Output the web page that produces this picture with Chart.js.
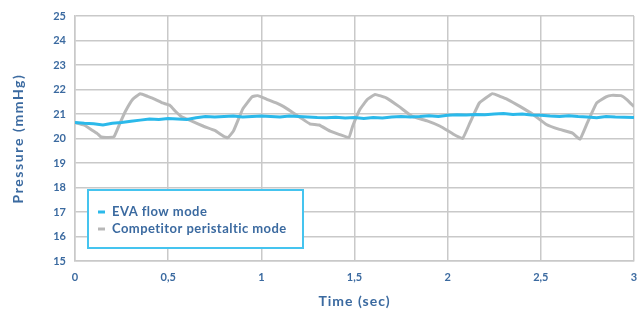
<!DOCTYPE html>
<html>
<head>
<meta charset="utf-8">
<script src="https://cdn.jsdelivr.net/npm/chart.js@4"></script>
<style>
  html, body { margin: 0; padding: 0; background: #fff; }
  #wrap { width: 641px; height: 312px; position: relative; }
</style>
</head>
<body>
<div id="wrap"><canvas id="chart"></canvas></div>
<script>
// DATA
const seriesNames = ['EVA flow mode', 'Competitor peristaltic mode'];

const evaTime = [0, 0.05, 0.1, 0.15, 0.2, 0.25, 0.3, 0.35, 0.4, 0.45, 0.5, 0.55, 0.6, 0.65, 0.7, 0.75, 0.8, 0.85, 0.9, 0.95,
  1, 1.05, 1.1, 1.15, 1.2, 1.25, 1.3, 1.35, 1.4, 1.45, 1.5, 1.55, 1.6, 1.65, 1.7, 1.75, 1.8, 1.85, 1.9, 1.95,
  2, 2.05, 2.1, 2.15, 2.2, 2.25, 2.3, 2.35, 2.4, 2.45, 2.5, 2.55, 2.6, 2.65, 2.7, 2.75, 2.8, 2.85, 2.9, 2.95, 3];
const evaValues = [20.65, 20.62, 20.6, 20.55, 20.62, 20.65, 20.7, 20.75, 20.8, 20.78, 20.82, 20.8, 20.78, 20.85, 20.9, 20.88, 20.9, 20.92, 20.88, 20.9,
  20.92, 20.9, 20.88, 20.92, 20.9, 20.88, 20.86, 20.85, 20.87, 20.84, 20.86, 20.82, 20.86, 20.84, 20.88, 20.9, 20.88, 20.9, 20.93, 20.9,
  20.95, 20.97, 20.96, 20.98, 20.97, 21.0, 21.02, 20.98, 21.0, 20.96, 20.95, 20.92, 20.9, 20.93, 20.9, 20.88, 20.85, 20.9, 20.88, 20.87, 20.86];

const compTime = [0, 0.05, 0.09, 0.12, 0.14, 0.18, 0.21, 0.24, 0.27, 0.31, 0.35, 0.39, 0.43, 0.47, 0.51, 0.54, 0.57, 0.63, 0.69, 0.75, 0.8, 0.82,
  0.85, 0.9, 0.95, 0.98, 1.03, 1.08, 1.12, 1.17, 1.21, 1.26, 1.31, 1.37, 1.42, 1.47, 1.49, 1.53, 1.57, 1.61, 1.67, 1.74, 1.81, 1.89, 1.96,
  2.03, 2.08, 2.12, 2.17, 2.24, 2.28, 2.32, 2.39, 2.46, 2.53, 2.6, 2.67, 2.71, 2.75, 2.8, 2.85, 2.88, 2.93, 2.96, 3];
const compValues = [20.65, 20.55, 20.35, 20.2, 20.06, 20.04, 20.08, 20.6, 21.1, 21.6, 21.83, 21.72, 21.6, 21.45, 21.35, 21.1, 20.9, 20.7, 20.5, 20.33, 20.08, 20.03,
  20.3, 21.2, 21.7, 21.75, 21.6, 21.45, 21.3, 21.05, 20.85, 20.6, 20.55, 20.3, 20.16, 20.04, 20.5, 21.2, 21.6, 21.8, 21.66, 21.3, 20.9, 20.72, 20.5,
  20.18, 20.0, 20.65, 21.45, 21.83, 21.72, 21.6, 21.3, 20.97, 20.57, 20.37, 20.22, 19.97, 20.65, 21.45, 21.7, 21.76, 21.75, 21.6, 21.3];

const xTickLabels = ['0', '0,5', '1', '1,5', '2', '2,5', '3'];
const yMin = 15, yMax = 25;

const textColor = '#3b6aa0';
const gridColor = '#c9c9c9';
const evaColor = '#2bb9ea';
const compColor = '#b8b8b8';

// wider title lettering (the original uses a wide geometric font)
const spacedTitles = {
  id: 'spacedTitles',
  beforeDraw(chart) {
    [['x', '1px'], ['y', '1.6px']].forEach(function(p){
      const sc = chart.scales[p[0]];
      if (sc._spaced) return;
      const orig = sc.drawTitle;
      sc.drawTitle = function(){
        chart.ctx.save();
        chart.ctx.letterSpacing = p[1];
        orig.apply(this, arguments);
        chart.ctx.restore();
      };
      sc._spaced = true;
    });
  }
};

// legend box drawn inside plot
const boxLegend = {
  id: 'boxLegend',
  afterDraw(chart) {
    const c = chart.ctx;
    const x = 88, y = 190, w = 215, h = 58;
    c.save();
    c.fillStyle = '#fff';
    c.fillRect(x, y, w, h);
    c.strokeStyle = '#45c4ef';
    c.lineWidth = 2;
    c.strokeRect(x, y, w, h);
    c.font = 'bold 13px Lato';
    c.letterSpacing = '0.45px';
    c.textBaseline = 'middle';
    chart.data.datasets.forEach(function(ds, i){
      const ly = y + 22 + i * 17;
      c.strokeStyle = ds.borderColor;
      c.lineWidth = 3;
      c.beginPath();
      c.moveTo(x + 10, ly);
      c.lineTo(x + 17, ly);
      c.stroke();
      c.fillStyle = textColor;
      c.fillText(ds.label, x + 24, ly);
    });
    c.restore();
  }
};

const ctx = document.getElementById('chart');
const myChart = new Chart(ctx, {
  type: 'line',
  data: {
    datasets: [{
      label: seriesNames[0],
      data: evaTime.map((t, i) => ({x: t, y: evaValues[i]})),
      borderColor: evaColor,
      borderWidth: 3,
      pointRadius: 0,
      tension: 0
    }, {
      label: seriesNames[1],
      data: compTime.map((t, i) => ({x: t, y: compValues[i]})),
      borderColor: compColor,
      borderWidth: 3,
      pointRadius: 0,
      tension: 0.1
    }]
  },
  options: {
    responsive: true,
    maintainAspectRatio: false,
    animation: false,
    layout: { padding: { top: 16, right: 7, left: 0, bottom: 0 } },
    plugins: { legend: { display: false }, tooltip: { enabled: false } },
    scales: {
      x: {
        type: 'linear',
        min: 0, max: 3,
        afterFit(scale) { scale.height = 51; scale.paddingRight = 0; scale.paddingLeft = 0; },
        grid: { color: gridColor, lineWidth: 1.5, drawTicks: false },
        border: { color: gridColor, width: 1.5 },
        ticks: {
          stepSize: 0.5,
          padding: 10,
          color: textColor,
          font: { family: 'Lato', size: 11, weight: 'bold' },
          callback: function(value){ return xTickLabels[Math.round(value * 2)]; }
        },
        title: {
          display: true,
          text: 'Time (sec)',
          color: textColor,
          font: { family: 'Lato', size: 14, weight: 'bold' },
          padding: { top: 0, bottom: 2 }
        }
      },
      y: {
        min: yMin, max: yMax,
        afterFit(scale) { scale.width = 75; },
        grid: { color: gridColor, lineWidth: 1.5, drawTicks: false },
        border: { color: gridColor, width: 1.5 },
        ticks: {
          stepSize: 1,
          padding: 9,
          color: textColor,
          font: { family: 'Lato', size: 11, weight: 'bold' }
        },
        title: {
          display: true,
          text: 'Pressure (mmHg)',
          color: textColor,
          font: { family: 'Lato', size: 14, weight: 'bold' },
          padding: { top: 10, bottom: 0 }
        }
      }
    }
  },
  plugins: [spacedTitles, boxLegend]
});
</script>
</body>
</html>
